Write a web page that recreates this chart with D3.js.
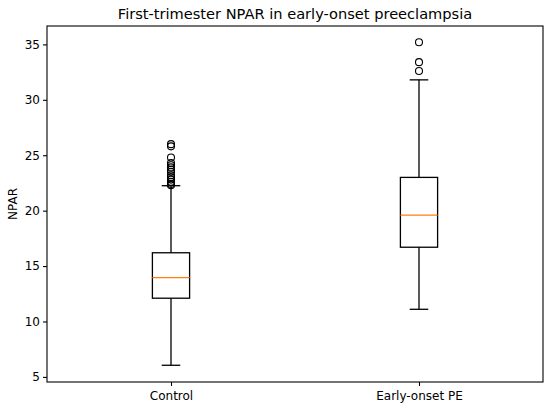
<!DOCTYPE html>
<html>
<head>
<meta charset="utf-8">
<script src="https://cdn.jsdelivr.net/npm/d3@7"></script>
<style>
  body { margin: 0; background: #fff; }
  text { font-family: "DejaVu Sans", sans-serif; fill: #000; }
</style>
</head>
<body>
<div class="content"></div>
<script>
var svgWidth = 550;
var svgHeight = 408;

// Box statistics.
var groups = ["Control", "Early-onset PE"];
var whiskerLow = [6.05, 11.1];
var q1 = [12.1, 16.7];
var medians = [13.95, 19.6];
var q3 = [16.2, 23.0];
var whiskerHigh = [22.25, 31.8];
var outliers = [
	[22.3, 22.4, 22.6, 22.8, 23.0, 23.2, 23.5, 23.7, 23.9, 24.1, 24.3, 24.8, 25.8, 26.0],
	[32.6, 33.4, 35.2]
];
var yTicks = [5, 10, 15, 20, 25, 30, 35];

var margin = {top: 26, right: 7, bottom: 26, left: 47};
var width = svgWidth - margin.left - margin.right;
var height = svgHeight - margin.top - margin.bottom;

var svg = d3.select(".content")
	.append("svg")
	.attr("width", svgWidth)
	.attr("height", svgHeight);

var g = svg.append("g")
	.attr("transform", "translate(" + margin.left + "," + margin.top + ")");

// Positions 1 and 2 on a 0.5 - 2.5 axis, like matplotlib's boxplot.
var x = d3.scaleLinear().domain([0.5, 2.5]).range([0, width]);
var y = d3.scaleLinear().domain([4.54, 36.66]).range([height, 0]);

var boxHalf = width * 0.0375;  // box width 0.15 in data units
var capHalf = boxHalf / 2;
var lw = 1.3;

var data = groups.map(function(name, i) {
	return {name: name, pos: i + 1, lo: whiskerLow[i], q1: q1[i], med: medians[i],
		q3: q3[i], hi: whiskerHigh[i], fliers: outliers[i]};
});

var boxes = g.selectAll(".box")
	.data(data)
	.enter().append("g")
	.attr("class", "box");

// Whiskers.
boxes.append("line")
	.attr("x1", function(d) { return x(d.pos); })
	.attr("x2", function(d) { return x(d.pos); })
	.attr("y1", function(d) { return y(d.lo); })
	.attr("y2", function(d) { return y(d.q1); })
	.attr("stroke", "#000").attr("stroke-width", lw);
boxes.append("line")
	.attr("x1", function(d) { return x(d.pos); })
	.attr("x2", function(d) { return x(d.pos); })
	.attr("y1", function(d) { return y(d.q3); })
	.attr("y2", function(d) { return y(d.hi); })
	.attr("stroke", "#000").attr("stroke-width", lw);

// Caps.
["lo", "hi"].forEach(function(k) {
	boxes.append("line")
		.attr("x1", function(d) { return x(d.pos) - capHalf; })
		.attr("x2", function(d) { return x(d.pos) + capHalf; })
		.attr("y1", function(d) { return y(d[k]); })
		.attr("y2", function(d) { return y(d[k]); })
		.attr("stroke", "#000").attr("stroke-width", lw);
});

// Box.
boxes.append("rect")
	.attr("x", function(d) { return x(d.pos) - boxHalf; })
	.attr("width", boxHalf * 2)
	.attr("y", function(d) { return y(d.q3); })
	.attr("height", function(d) { return y(d.q1) - y(d.q3); })
	.attr("fill", "none")
	.attr("stroke", "#000").attr("stroke-width", lw);

// Median.
boxes.append("line")
	.attr("x1", function(d) { return x(d.pos) - boxHalf; })
	.attr("x2", function(d) { return x(d.pos) + boxHalf; })
	.attr("y1", function(d) { return y(d.med); })
	.attr("y2", function(d) { return y(d.med); })
	.attr("stroke", "#ff7f0e").attr("stroke-width", lw);

// Fliers.
boxes.selectAll(".flier")
	.data(function(d) { return d.fliers.map(function(v) { return {pos: d.pos, v: v}; }); })
	.enter().append("circle")
	.attr("class", "flier")
	.attr("cx", function(d) { return x(d.pos); })
	.attr("cy", function(d) { return y(d.v); })
	.attr("r", 3.5)
	.attr("fill", "none")
	.attr("stroke", "#000").attr("stroke-width", 1.1);

// Axes.
var yAxis = g.append("g")
	.call(d3.axisLeft(y).tickValues(yTicks).tickSize(4).tickPadding(3));
var xAxis = g.append("g")
	.attr("transform", "translate(0," + height + ")")
	.call(d3.axisBottom(x).tickValues([1, 2]).tickFormat(function(d) { return groups[d - 1]; })
		.tickSize(4).tickPadding(5));
[yAxis, xAxis].forEach(function(a) {
	a.select(".domain").remove();
	a.selectAll("line").attr("stroke", "#000").attr("stroke-width", 1.1);
	a.selectAll("text").style("font-size", "12px").attr("fill", "#000");
});

// Frame.
g.append("rect")
	.attr("width", width)
	.attr("height", height)
	.attr("fill", "none")
	.attr("stroke", "#000").attr("stroke-width", 1.1);

// Title and label.
svg.append("text")
	.attr("x", margin.left + width / 2)
	.attr("y", 19)
	.attr("text-anchor", "middle")
	.style("font-size", "14.6px")
	.text("First-trimester NPAR in early-onset preeclampsia");

svg.append("text")
	.attr("transform", "translate(17," + (margin.top + height / 2) + ") rotate(-90)")
	.attr("text-anchor", "middle")
	.style("font-size", "12px")
	.text("NPAR");
</script>
</body>
</html>
